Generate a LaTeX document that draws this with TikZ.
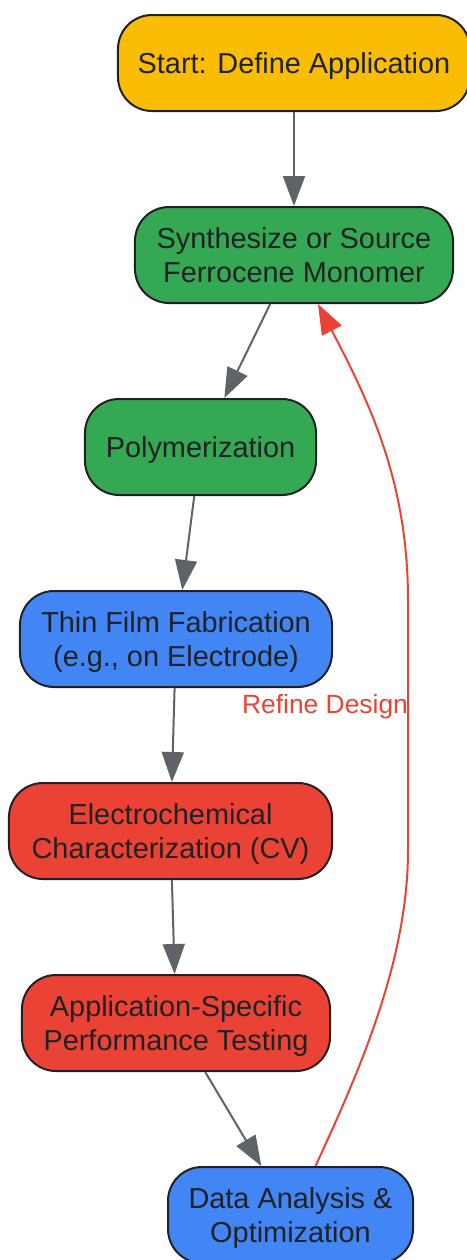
\documentclass[tikz,border=0pt]{standalone}
\usepackage{fontspec}
\setmainfont{Liberation Sans}
\usetikzlibrary{arrows.meta}
\definecolor{cyellow}{HTML}{FBBC04}
\definecolor{cgreen}{HTML}{34A853}
\definecolor{cblue}{HTML}{4285F4}
\definecolor{cred}{HTML}{EA4335}
\definecolor{cgray}{HTML}{5F6368}
\definecolor{ctext}{HTML}{202124}
\tikzset{
  box/.style={draw=ctext, line width=2bp, rounded corners=34bp, minimum height=96bp,
    align=center, text=ctext, inner sep=0pt, text depth=0pt,
    font=\fontsize{29}{35}\selectfont},
  flow/.style={draw=cgray, line width=2bp, -{Triangle[length=30bp,width=22bp]}},
  back/.style={draw=cred, line width=2bp, -{Triangle[length=30bp,width=22bp]}},
}
\begin{document}
\begin{tikzpicture}[x=1bp,y=-1bp]
\useasboundingbox (0,0) rectangle (467,1260);
\node[box, fill=cyellow, minimum width=352bp] (n1) at (294,63) {Start: Define Application};
\node[box, fill=cgreen, minimum width=318bp] (n2) at (294,255) {Synthesize or Source\\Ferrocene Monomer};
\node[box, fill=cgreen, minimum width=231bp] (n3) at (200.5,447) {Polymerization};
\node[box, fill=cblue, minimum width=312bp] (n4) at (176,639) {Thin Film Fabrication\\(e.g., on Electrode)};
\node[box, fill=cred, minimum width=323bp] (n5) at (170.5,831) {Electrochemical\\Characterization (CV)};
\node[box, fill=cred, minimum width=308bp] (n6) at (176,1023) {Application-Specific\\Performance Testing};
\node[box, fill=cblue, minimum width=245bp] (n7) at (290.5,1215) {Data Analysis \&\\Optimization};
\draw[flow] (n1) -- (n2);
\draw[flow] (n2) -- (n3);
\draw[flow] (n3) -- (n4);
\draw[flow] (n4) -- (n5);
\draw[flow] (n5) -- (n6);
\draw[flow] (n6) -- (n7);
\coordinate (rb) at (408,850);
\coordinate (rt) at (408,600);
\draw[back] ([xshift=25bp]n7.north) .. controls (360,1070) and (408,960) .. (rb) -- (rt) .. controls (408,480) and (368,400) .. ([xshift=24bp]n2.south);
\node[text=cred, font=\fontsize{26.5}{31}\selectfont, inner sep=0pt, text depth=0pt] (lbl) at (325,704) {Refine Design};
\end{tikzpicture}
\end{document}
